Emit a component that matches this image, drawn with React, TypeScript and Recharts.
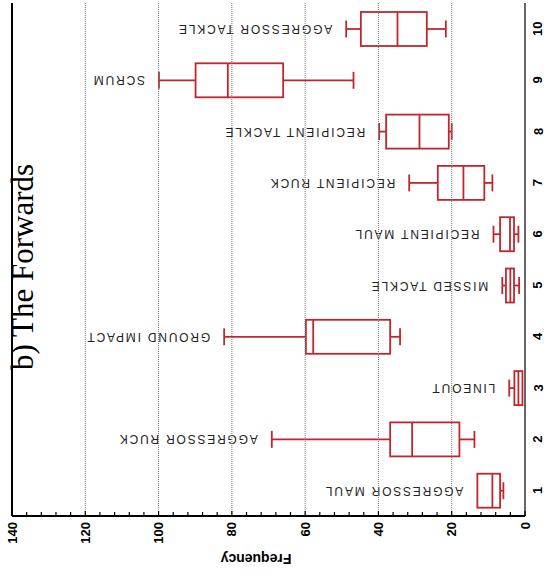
import React from 'react';
import { ComposedChart, Bar, XAxis, YAxis, ReferenceLine } from 'recharts';

const categories = ['1', '2', '3', '4', '5', '6', '7', '8', '9', '10'];
const actions = [
    'AGGRESSOR MAUL',
    'AGGRESSOR RUCK',
    'LINEOUT',
    'GROUND IMPACT',
    'MISSED TACKLE',
    'RECIPIENT MAUL',
    'RECIPIENT RUCK',
    'RECIPIENT TACKLE',
    'SCRUM',
    'AGGRESSOR TACKLE',
];
const whiskerLow = [5.9, 13.8, 0.7, 34.1, 1.6, 1.8, 8.9, 20.0, 46.8, 21.6];
const quartile1 = [6.8, 17.9, 0.7, 36.8, 3.0, 3.0, 11.1, 20.8, 66.0, 26.8];
const medians = [8.9, 30.8, 1.8, 57.8, 4.0, 4.1, 16.8, 28.8, 81.1, 34.8];
const quartile3 = [13.0, 36.8, 2.9, 59.8, 5.2, 6.8, 23.8, 37.9, 89.9, 44.8];
const whiskerHigh = [13.0, 69.1, 4.3, 82.1, 6.2, 8.6, 31.6, 39.8, 99.9, 48.8];

const majorTicks = [0, 20, 40, 60, 80, 100, 120, 140];
const allTicks = [
    0, 4, 8, 12, 16, 20, 24, 28, 32, 36, 40, 44, 48, 52, 56, 60, 64, 68,
    72, 76, 80, 84, 88, 92, 96, 100, 104, 108, 112, 116, 120, 124, 128, 132, 136, 140,
];
const gridValues = [20, 40, 60, 80, 100, 120];

const RED = '#c0272d';
const SANS = '"Liberation Sans", Arial, Helvetica, sans-serif';

const data = categories.map((cat, i) => ({
    cat,
    name: actions[i],
    low: whiskerLow[i],
    q1: quartile1[i],
    med: medians[i],
    q3: quartile3[i],
    high: whiskerHigh[i],
    range: [whiskerLow[i], whiskerHigh[i]],
}));

const BoxShape = (props: any) => {
    const { x, y, width, height, payload } = props;
    const left = Math.min(x, x + width);
    const right = Math.max(x, x + width);
    const span = payload.high - payload.low;
    // axis is reversed: low values sit on the right
    const px = (v: number) => right - ((v - payload.low) / span) * (right - left);
    const cy = y + height / 2;
    const half = height / 2;
    const cap = height / 4;
    const xHigh = px(payload.high);
    const xLow = px(payload.low);
    const xQ3 = px(payload.q3);
    const xQ1 = px(payload.q1);
    const xMed = px(payload.med);
    const labelX = xHigh - 14;
    return (
        <g>
            {payload.high > payload.q3 && (
                <g stroke={RED} strokeWidth={1.8}>
                    <line x1={xHigh} x2={xQ3} y1={cy} y2={cy} />
                    <line x1={xHigh} x2={xHigh} y1={cy - cap} y2={cy + cap} />
                </g>
            )}
            {payload.low < payload.q1 && (
                <g stroke={RED} strokeWidth={1.8}>
                    <line x1={xLow} x2={xQ1} y1={cy} y2={cy} />
                    <line x1={xLow} x2={xLow} y1={cy - cap} y2={cy + cap} />
                </g>
            )}
            <rect x={xQ3} y={cy - half} width={xQ1 - xQ3} height={height} fill="#fff" stroke={RED} strokeWidth={1.8} />
            <line x1={xMed} x2={xMed} y1={cy - half} y2={cy + half} stroke={RED} strokeWidth={1.8} />
            <text
                x={labelX}
                y={cy}
                transform={`rotate(180 ${labelX} ${cy})`}
                textAnchor="start"
                dominantBaseline="central"
                fontFamily={SANS}
                fontSize={12}
                letterSpacing={1.8}
                fill="#222"
            >
                {payload.name}
            </text>
        </g>
    );
};

const BottomTick = (props: any) => {
    const { x, y, payload } = props;
    const major = majorTicks.includes(payload.value);
    return (
        <g>
            <line x1={x} x2={x} y1={y} y2={y - (major ? 5 : 4)} stroke="#000" strokeWidth={1.2} />
            {major && (
                <text
                    x={x}
                    y={y + 6}
                    transform={`rotate(-90 ${x} ${y + 6})`}
                    textAnchor="end"
                    dominantBaseline="central"
                    fontFamily={SANS}
                    fontWeight="bold"
                    fontSize={13}
                    fill="#000"
                >
                    {payload.value}
                </text>
            )}
        </g>
    );
};

const TopTick = (props: any) => {
    const { x, y } = props;
    return <line x1={x} x2={x} y1={y} y2={y + 4} stroke="#000" strokeWidth={1.2} />;
};

const RightTick = (props: any) => {
    const { x, y, payload } = props;
    const tx = x + 13;
    return (
        <text
            x={tx}
            y={y}
            transform={`rotate(-90 ${tx} ${y})`}
            textAnchor="middle"
            dominantBaseline="central"
            fontFamily={SANS}
            fontWeight="bold"
            fontSize={13}
            fill="#000"
        >
            {payload.value}
        </text>
    );
};

const App: React.FC = () => {
    return (
        <div style={{ position: 'absolute', left: 0, top: 0, width: 550, height: 580, background: '#fff' }}>
            <ComposedChart
                width={550}
                height={580}
                data={data}
                layout="vertical"
                margin={{ top: 3, right: 0, left: 12, bottom: 0 }}
            >
                <XAxis
                    type="number"
                    xAxisId="bottom"
                    orientation="bottom"
                    domain={[0, 140]}
                    reversed
                    ticks={allTicks}
                    interval={0}
                    tickSize={0}
                    tickMargin={0}
                    tickLine={false}
                    tick={<BottomTick />}
                    axisLine={{ stroke: '#000', strokeWidth: 2 }}
                    height={64}
                />
                <XAxis
                    type="number"
                    xAxisId="top"
                    orientation="top"
                    domain={[0, 140]}
                    reversed
                    ticks={allTicks}
                    interval={0}
                    tickSize={0}
                    tickMargin={0}
                    tickLine={false}
                    tick={<TopTick />}
                    axisLine={{ stroke: '#000', strokeWidth: 1.2 }}
                    height={0}
                />
                <YAxis
                    type="category"
                    dataKey="cat"
                    orientation="right"
                    reversed
                    width={25}
                    tickSize={0}
                    tickMargin={0}
                    tickLine={false}
                    tick={<RightTick />}
                    axisLine={{ stroke: '#000', strokeWidth: 1.2 }}
                />
                {gridValues.map((v) => (
                    <ReferenceLine
                        key={v}
                        x={v}
                        xAxisId="bottom"
                        stroke="#777"
                        strokeWidth={1}
                        strokeDasharray="1 1"
                    />
                ))}
                <ReferenceLine x={140} xAxisId="bottom" stroke="#000" strokeWidth={2} />
                <Bar
                    dataKey="range"
                    xAxisId="bottom"
                    barSize={34}
                    shape={<BoxShape />}
                    isAnimationActive={false}
                />
                <text
                    x={256}
                    y={559}
                    transform="rotate(180 256 559)"
                    textAnchor="middle"
                    dominantBaseline="central"
                    fontFamily={SANS}
                    fontWeight="bold"
                    fontSize={14}
                    fill="#000"
                >
                    Frequency
                </text>
                <text
                    x={33}
                    y={267}
                    transform="rotate(-90 33 267)"
                    textAnchor="middle"
                    fontFamily='"Liberation Serif", "Times New Roman", serif'
                    fontSize={31}
                    fill="#000"
                >
                    b) The Forwards
                </text>
            </ComposedChart>
        </div>
    );
};

export default App;
